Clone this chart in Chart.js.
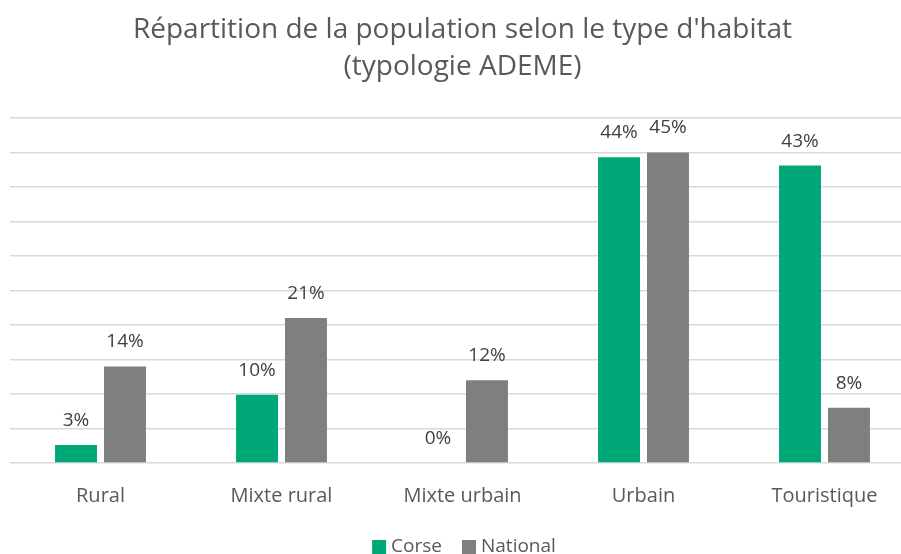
<!DOCTYPE html>
<html><head><meta charset="utf-8">
<script src="https://cdn.jsdelivr.net/npm/chart.js@4"></script>
<style>html,body{margin:0;padding:0;background:#fff;overflow:hidden}body{width:901px;height:554px}#w{width:928px;height:554px}</style>
</head><body><div id="w"><canvas id="c"></canvas></div>
<script>
const categories = ["Rural", "Mixte rural", "Mixte urbain", "Urbain", "Touristique"];
const corse = [2.6, 9.9, 0, 44.3, 43.1];
const national = [14.0, 21.0, 12.0, 45.0, 8.0];
const corseLabels = ["3%", "10%", "0%", "44%", "43%"];
const nationalLabels = ["14%", "21%", "12%", "45%", "8%"];
const titleLines = ["Répartition de la population selon le type d'habitat", "(typologie ADEME)"];
const FONT = "'Open Sans', 'Noto Sans', sans-serif";

const labelPlugin = {
  id: 'vlabels',
  afterDatasetsDraw(chart) {
    const ctx = chart.ctx;
    ctx.save();
    ctx.font = "19px " + FONT;
    ctx.fillStyle = "#404040";
    ctx.textAlign = "center";
    ctx.textBaseline = "alphabetic";
    const lbls = [corseLabels, nationalLabels];
    chart.data.datasets.forEach((ds, i) => {
      chart.getDatasetMeta(i).data.forEach((bar, j) => {
        ctx.fillText(lbls[i][j], bar.x, bar.y - 19);
      });
    });
    ctx.restore();
  }
};

const legendPlugin = {
  id: 'customLegend',
  afterDraw(chart) {
    const ctx = chart.ctx;
    ctx.save();
    ctx.font = "19px " + FONT;
    ctx.textBaseline = "alphabetic";
    ctx.textAlign = "left";
    const box = 14, gap = 5, spacing = 20;
    const items = chart.data.datasets.map(ds => ({text: ds.label, color: ds.backgroundColor, w: ctx.measureText(ds.label).width}));
    let total = items.reduce((s, it) => s + box + gap + it.w, 0) + spacing * (items.length - 1);
    let x = chart.width / 2 - total / 2;
    const base = 552;
    items.forEach(it => {
      ctx.fillStyle = it.color;
      ctx.fillRect(x, base - 12, box, box);
      x += box + gap;
      ctx.fillStyle = "#595959";
      ctx.fillText(it.text, x, base);
      x += it.w + spacing;
    });
    ctx.restore();
  }
};

new Chart(document.getElementById('c'), {
  type: 'bar',
  data: {
    labels: categories,
    datasets: [
      {label: "Corse", data: corse, backgroundColor: "#00A878", categoryPercentage: 0.541, barPercentage: 0.857},
      {label: "National", data: national, backgroundColor: "#7F7F7F", categoryPercentage: 0.541, barPercentage: 0.857}
    ]
  },
  options: {
    responsive: true, maintainAspectRatio: false, animation: false,
    layout: {padding: {left: 10, right: 13, top: 0, bottom: 25}},
    plugins: {
      title: {display: true, text: titleLines, color: "#595959", font: {family: FONT, size: 28, weight: 'normal', lineHeight: 1.32}, padding: {top: 12, bottom: 32}},
      legend: {display: false},
      tooltip: {enabled: false}
    },
    scales: {
      x: {grid: {display: false, drawTicks: false}, border: {display: false}, ticks: {color: "#595959", font: {family: FONT, size: 20}, padding: 21}},
      y: {min: 0, max: 50, grid: {color: "#d9d9d9", lineWidth: 1.5, drawTicks: false}, border: {display: false}, ticks: {display: false, stepSize: 5}}
    }
  },
  plugins: [labelPlugin, legendPlugin]
});
</script></body></html>
